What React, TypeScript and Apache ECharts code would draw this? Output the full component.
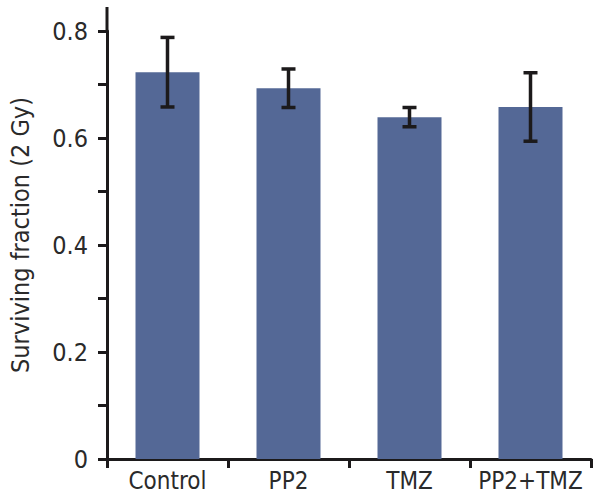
import React, { useEffect, useRef } from "react";
import * as echarts from "echarts";

const categories = ["Control", "PP2", "TMZ", "PP2+TMZ"];
const means = [0.723, 0.693, 0.639, 0.658];
const errors = [0.065, 0.036, 0.018, 0.064];
const yTickLabels = ["0", "0.2", "0.4", "0.6", "0.8"];

const FONT = '"Liberation Sans Narrow", "DejaVu Sans Condensed", "Roboto Condensed", sans-serif';
const AXIS_COLOR = "#1c1a1b";
const TEXT_COLOR = "#2a2a2a";
const BAR_COLOR = "#546896";

export default function App() {
  const ref = useRef<HTMLDivElement>(null);
  useEffect(() => {
    if (!ref.current) return;
    const chart = echarts.init(ref.current, undefined, { renderer: "svg" });
    const errData = categories.map((_, i) => [i, means[i] - errors[i], means[i] + errors[i]]);
    chart.setOption({
      animation: false,
      backgroundColor: "#ffffff",
      grid: { left: 107, right: 9, top: 31, bottom: 41 },
      xAxis: {
        type: "category",
        data: categories,
        boundaryGap: true,
        axisLine: { lineStyle: { color: AXIS_COLOR, width: 3 } },
        axisTick: { show: true, length: 9, interval: 0, lineStyle: { color: AXIS_COLOR, width: 3 } },
        axisLabel: {
          color: TEXT_COLOR,
          fontFamily: FONT,
          fontSize: 24,
          margin: 10,
          interval: 0,
          hideOverlap: false,
        },
      },
      yAxis: {
        type: "value",
        min: 0,
        max: 0.8,
        interval: 0.1,
        name: "Surviving fraction (2 Gy)",
        nameLocation: "middle",
        nameGap: 74,
        nameTextStyle: {
          color: TEXT_COLOR,
          fontFamily: FONT,
          fontSize: 25,
          padding: [0, 0, 0, 20],
        },
        axisLine: { show: true, onZero: false, lineStyle: { color: AXIS_COLOR, width: 3 } },
        axisTick: { show: true, length: 9, lineStyle: { color: AXIS_COLOR, width: 3 } },
        splitLine: { show: false },
        axisLabel: {
          color: TEXT_COLOR,
          fontFamily: FONT,
          fontSize: 25,
          margin: 19,
          formatter: (v: number) => {
            const k = Math.round(v * 10);
            if (Math.abs(v * 10 - k) > 1e-6 || k % 2 !== 0) return "";
            return yTickLabels[k / 2] ?? "";
          },
        },
      },
      graphic: [
        {
          type: "line",
          shape: { x1: 107, y1: 7, x2: 107, y2: 32 },
          style: { stroke: AXIS_COLOR, lineWidth: 3 },
        },
      ],
      series: [
        {
          type: "bar",
          data: means,
          barWidth: 64,
          itemStyle: { color: BAR_COLOR },
        },
        {
          type: "custom",
          data: errData,
          z: 10,
          renderItem: (params: any, api: any) => {
            const x = api.value(0);
            const lo = api.coord([x, api.value(1)]);
            const hi = api.coord([x, api.value(2)]);
            const half = 7;
            const style = { stroke: AXIS_COLOR, lineWidth: 3.5 };
            return {
              type: "group",
              children: [
                { type: "line", shape: { x1: lo[0], y1: lo[1], x2: hi[0], y2: hi[1] }, style },
                { type: "line", shape: { x1: hi[0] - half, y1: hi[1], x2: hi[0] + half, y2: hi[1] }, style },
                { type: "line", shape: { x1: lo[0] - half, y1: lo[1], x2: lo[0] + half, y2: lo[1] }, style },
              ],
            };
          },
        },
      ],
    });
    return () => chart.dispose();
  }, []);
  return (
    <div
      ref={ref}
      style={{ position: "fixed", left: 0, top: 0, width: 600, height: 500 }}
    />
  );
}
